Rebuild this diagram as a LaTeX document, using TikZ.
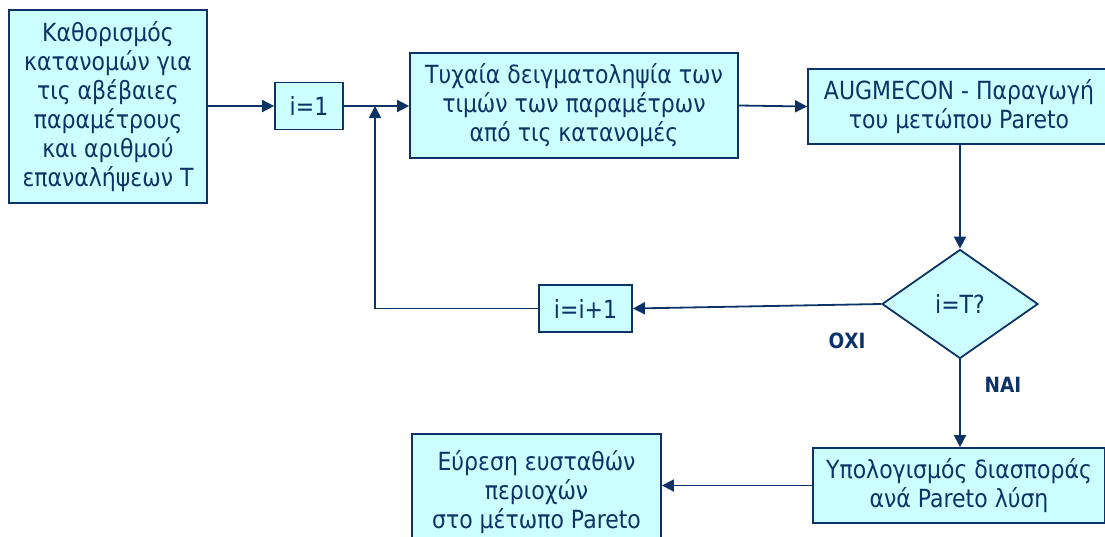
\documentclass[tikz,border=0pt]{standalone}
\usepackage{fontspec}
\setmainfont{DejaVu Sans}[FakeStretch=0.88]
\usetikzlibrary{shapes.geometric,arrows.meta}
\definecolor{boxfill}{HTML}{CCFFFF}
\definecolor{ink}{HTML}{0D3366}
\begin{document}
\begin{tikzpicture}[x=1pt,y=-1pt,
  every node/.style={font=\fontsize{25}{29}\selectfont, text=ink},
  stepbox/.style={draw=ink, fill=boxfill, line width=1.8pt, align=center, inner sep=0pt},
  decision/.style={diamond, draw=ink, fill=boxfill, line width=1.8pt, inner sep=0pt},
  flow/.style={draw=ink, line width=1.8pt, -{Triangle[length=12pt,width=12pt]}},
  lbl/.style={font=\fontsize{21}{24}\selectfont\bfseries}]
\useasboundingbox (0,0) rectangle (1105,536);
\begin{scope}
\clip (0,0) rectangle (1105,536);
% process boxes
\node[stepbox, minimum width=198pt, minimum height=193pt] (spec) at (108,106.5)
  {Καθορισμός\\κατανομών για\\τις αβέβαιες\\παραμέτρους\\και αριθμού\\επαναλήψεων T};
\node[stepbox, minimum width=68pt, minimum height=47pt] (init) at (309,106) {i=1};
\node[stepbox, minimum width=328pt, minimum height=105pt] (sample) at (574,105.5)
  {Τυχαία δειγματοληψία των\\τιμών των παραμέτρων\\από τις κατανομές};
\node[stepbox, minimum width=302pt, minimum height=75pt] (aug) at (959,106.5)
  {AUGMECON - Παραγωγή\\του μετώπου Pareto};
\node[decision, minimum width=156pt, minimum height=109pt] (test) at (960,304) {i=T?};
\node[stepbox, minimum width=93pt, minimum height=47pt] (inc) at (585.5,308.5) {i=i+1};
\node[stepbox, minimum width=292pt, minimum height=75pt] (disp) at (959,485.5)
  {Υπολογισμός διασποράς\\ανά Pareto λύση};
\node[stepbox, minimum width=249pt, minimum height=116pt] (stable) at (536.5,492)
  {Εύρεση ευσταθών\\περιοχών\\στο μέτωπο Pareto};
% branch labels
\node[lbl] (no) at (847,341) {ΟΧΙ};
\node[lbl] (yes) at (1003,385) {ΝΑΙ};
% connectors
\coordinate (join) at (375,106);
\draw[flow] (spec.east |- init.west) -- (init.west);
\draw[flow] (init.east) -- (init.east -| sample.west);
\draw[flow] (sample.east) -- (aug.west);
\draw[flow] (aug.south -| test.north) -- (test.north);
\draw[flow] (test.west) -- (inc.east);
\draw[flow] (inc.west) -| (join);
\draw[flow] (test.south) -- (test.south |- disp.north);
\draw[flow] (disp.west) -- (disp.west -| stable.east);
\end{scope}
\end{tikzpicture}
\end{document}
